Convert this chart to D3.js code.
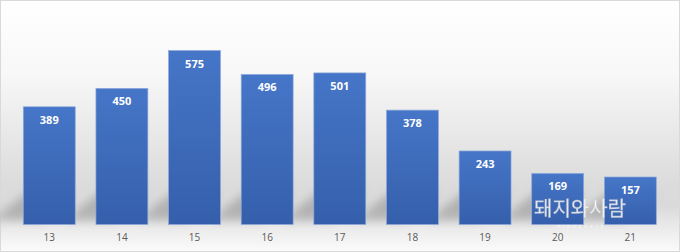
<!DOCTYPE html>
<html>
<head>
<meta charset="utf-8">
<script src="https://cdn.jsdelivr.net/npm/d3@7"></script>
<style>
  html, body { margin: 0; padding: 0; background: #fff; }
  svg { display: block; }
</style>
</head>
<body>
<div id="chart"></div>
<script>
const width = 680;
const height = 252;

const ages = ["13", "14", "15", "16", "17", "18", "19", "20", "21"];
const counts = [389, 450, 575, 496, 501, 378, 243, 169, 157];

const baseY = 224.5;

const svg = d3
  .select("#chart")
  .append("svg")
  .attr("width", width)
  .attr("height", height);

const defs = svg.append("defs");

const bg = defs
  .append("linearGradient")
  .attr("id", "bg")
  .attr("x1", 0).attr("y1", 0).attr("x2", 0).attr("y2", 1);
bg.append("stop").attr("offset", "0%").attr("stop-color", "#ffffff");
bg.append("stop").attr("offset", "30%").attr("stop-color", "#f7f7f7");
bg.append("stop").attr("offset", "72%").attr("stop-color", "#dcdcdc");
bg.append("stop").attr("offset", "82%").attr("stop-color", "#dadada");
bg.append("stop").attr("offset", "89%").attr("stop-color", "#e8e8e8");
bg.append("stop").attr("offset", "100%").attr("stop-color", "#fbfbfb");

const barGrad = defs
  .append("linearGradient")
  .attr("id", "bar")
  .attr("x1", 0).attr("y1", 0).attr("x2", 0).attr("y2", 1);
barGrad.append("stop").attr("offset", "0%").attr("stop-color", "#4676c8");
barGrad.append("stop").attr("offset", "100%").attr("stop-color", "#355fab");

defs
  .append("filter")
  .attr("id", "blur")
  .attr("x", "-50%").attr("y", "-50%").attr("width", "200%").attr("height", "200%")
  .append("feGaussianBlur")
  .attr("stdDeviation", 5);

svg
  .append("rect")
  .attr("x", 0.5).attr("y", 0.5)
  .attr("width", width - 1).attr("height", height - 1)
  .attr("fill", "url(#bg)")
  .attr("stroke", "#d9d9d9");

const x = d3
  .scaleBand()
  .domain(ages)
  .range([23.3, 656.3])
  .paddingInner(0.285)
  .paddingOuter(0);
const y = d3.scaleLinear().domain([0, 700]).range([baseY, baseY - 211.8]);

// floor shadows cast by the bars
svg
  .append("g")
  .attr("filter", "url(#blur)")
  .selectAll("polygon")
  .data(ages)
  .join("polygon")
  .attr("points", (d) => {
    const x0 = x(d), x1 = x(d) + x.bandwidth();
    return [
      [x0 + 4, baseY - 32],
      [x1, baseY - 32],
      [x1 - 32, baseY - 4],
      [x0 - 32, baseY - 4],
    ].join(" ");
  })
  .attr("fill", "#949494")
  .attr("opacity", 0.6);

svg
  .append("g")
  .selectAll("rect")
  .data(counts)
  .join("rect")
  .attr("x", (d, i) => x(ages[i]))
  .attr("y", (d) => y(d))
  .attr("width", x.bandwidth())
  .attr("height", (d) => baseY - y(d))
  .attr("fill", "url(#bar)")
  .attr("stroke", "#8fa9dc")
  .attr("stroke-width", 0.7);

svg
  .append("g")
  .selectAll("text")
  .data(counts)
  .join("text")
  .attr("x", (d, i) => x(ages[i]) + x.bandwidth() / 2)
  .attr("y", (d) => y(d) + 17)
  .attr("text-anchor", "middle")
  .attr("font-family", "'Open Sans', 'DejaVu Sans', sans-serif")
  .attr("font-weight", "bold")
  .attr("font-size", 11)
  .attr("fill", "#ffffff")
  .text((d) => d);

const axis = svg
  .append("g")
  .attr("transform", `translate(0,${baseY})`)
  .call(d3.axisBottom(x).tickSize(0).tickPadding(9));
axis.select(".domain").remove();
axis
  .selectAll("text")
  .attr("font-family", "'Open Sans', 'DejaVu Sans', sans-serif")
  .attr("font-size", 10)
  .attr("fill", "#595959");

// watermark
const wm = svg.append("g").attr("opacity", 0.85);
wm.append("text")
  .attr("x", 580)
  .attr("y", 216)
  .attr("text-anchor", "middle")
  .attr("font-family", "'Noto Sans CJK KR', sans-serif")
  .attr("font-size", 20)
  .attr("fill", "#ffffff")
  .attr("stroke", "#c8c8c8")
  .attr("stroke-width", 0.4)
  .text("돼지와사람");
wm.append("text")
  .attr("x", 582)
  .attr("y", 227.5)
  .attr("text-anchor", "middle")
  .attr("font-family", "'DejaVu Sans', sans-serif")
  .attr("font-size", 4)
  .attr("letter-spacing", 3)
  .attr("fill", "#ffffff")
  .text("PIGPEOPLE");
</script>
</body>
</html>
